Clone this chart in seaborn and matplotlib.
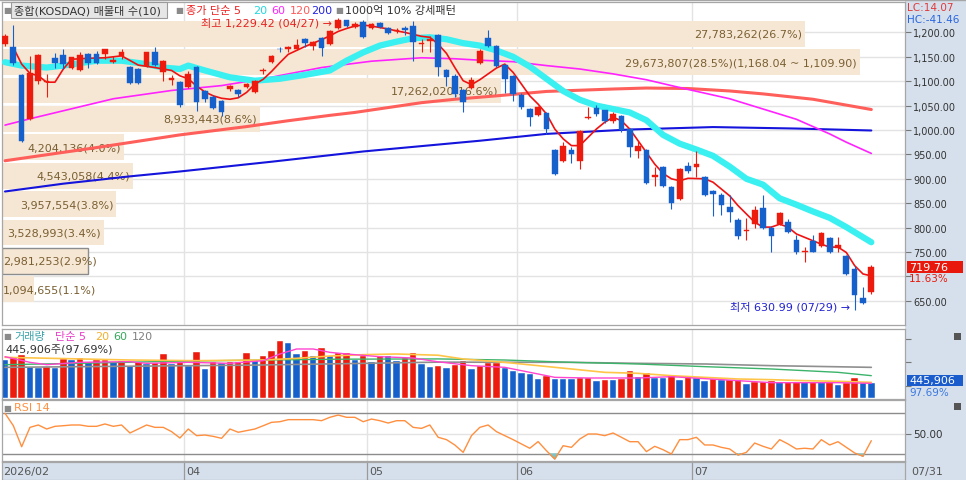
import numpy as np
import pandas as pd
import matplotlib
matplotlib.use("Agg")
import matplotlib.pyplot as plt
import seaborn as sns
from matplotlib.patches import Rectangle
from matplotlib.transforms import blended_transform_factory as blend
from matplotlib.ticker import FuncFormatter

# ---------------- data ----------------
opens = [1176,1171,1113,1022,1100,1098,1148,1154,1128,1122,
         1156,1156,1156,1139,1152,1130,1125,1132,1159,1118,
         1102,1098,1089,1130,1079,1067,1059,1084,1082,1089,
         1077,1121,1139,1167,1166,1166,1186,1173,1188,1176,
         1210,1225,1212,1222,1210,1219,1209,1203,1210,1214,
         1176,1183,1195,1122,1111,1081,1086,1137,1189,1173,
         1134,1111,1072,1044,1031,1034,959,937,959,937,
         1024,1046,1040,1018,1029,1002,956,959,904,924,
         884,859,926,925,903,876,866,842,816,793,
         807,840,800,807,812,775,750,773,762,778,
         759,741,715,655,667]
highs = [1196,1215,1115,1152,1156,1115,1157,1166,1150,1160,
         1158,1162,1166,1152,1167,1132,1128,1160,1170,1143,
         1113,1100,1120,1132,1082,1072,1062,1093,1084,1097,
         1103,1127,1154,1171,1172,1186,1188,1182,1190,1204,
         1229.42,1226,1222,1225,1220,1221,1212,1210,1213,1224,
         1186,1193,1197,1124,1115,1083,1109,1165,1205,1175,
         1136,1113,1075,1046,1050,1036,961,975,966,999,
         1048,1052,1042,1036,1031,1004,978,962,925,926,
         886,922,935,956,905,878,870,866,820,819,
         845,866,803,832,818,785,760,785,792,780,
         780,743,722,679,723]
lows = [1172,1134,975,1020,1095,1067,1128,1125,1126,1120,
        1128,1135,1145,1138,1145,1094,1094,1130,1132,1100,
        1093,1048,1087,1038,1058,1044,1029,1079,1068,1087,
        1075,1115,1137,1160,1160,1164,1171,1164,1152,1175,
        1206,1212,1208,1188,1206,1210,1196,1198,1195,1142,
        1159,1160,1111,1091,1068,1036,1084,1135,1170,1130,
        1075,1059,1044,1009,1029,992,908,935,932,920,
        1022,1028,1015,1015,996,944,943,889,886,883,
        838,857,911,903,864,823,826,811,777,775,
        800,797,750,805,788,746,730,749,760,747,
        749,703,630.99,643,663]
closes = [1193,1137,978,1116,1154,1101,1137,1135,1149,1154,
          1137,1138,1165,1143,1159,1096,1096,1159,1134,1141,
          1107,1052,1115,1057,1064,1046,1036,1091,1074,1094,
          1101,1123,1152,1165,1171,1175,1178,1180,1169,1202,
          1226.18,1214,1218,1190,1217,1212,1198,1205,1204,1180,
          1179,1186,1130,1108,1074,1057,1102,1161,1172,1132,
          1104,1074,1048,1026,1048,1002,910,968,951,997,
          1027,1033,1018,1033,999,966,968,891,908,886,
          850,920,915,931,866,868,846,831,783,795,
          837,799,783,829,792,749,752,751,789,749,
          764,705,662,644.78,719.76]
volumes = [1155000,1216000,1317000,932000,922000,932000,922000,1186000,1155000,1216000,
           1084000,1155000,1165000,1105000,1115000,963000,1105000,1034000,1054000,1338000,
           1034000,1084000,963000,1388000,892000,1084000,1054000,1084000,1094000,1368000,
           1165000,1287000,1419000,1723000,1662000,1338000,1439000,1287000,1520000,1287000,
           1358000,1368000,1155000,1287000,1084000,1287000,1277000,1115000,1216000,1358000,
           1034000,932000,983000,902000,1003000,1115000,871000,983000,1064000,1074000,
           902000,811000,770000,719000,588000,669000,588000,585000,580000,598000,
           608000,527000,557000,552000,567000,811000,628000,750000,618000,612000,
           699000,547000,638000,598000,527000,578000,537000,542000,548000,436000,
           476000,481000,507000,476000,479000,483000,474000,497000,476000,480000,
           405000,466000,608000,456450,445906]
rsi14 = [69.7,57.6,37.1,56.0,58.3,54.4,57.0,57.6,58.3,58.3,
         57.0,57.0,59.3,57.0,58.3,50.5,54.4,58.3,56.0,56.0,
         51.8,45.6,54.4,47.9,48.5,47.2,45.3,54.4,51.2,52.8,
         54.4,57.6,60.9,61.5,63.5,63.5,63.5,63.5,62.5,65.8,
         68.0,65.8,65.8,61.5,64.1,62.5,60.2,62.5,62.5,56.0,
         55.0,58.3,46.3,44.0,38.8,31.6,47.9,56.0,58.3,51.8,
         47.9,44.0,39.8,35.6,42.1,33.2,25.1,38.1,36.5,44.6,
         49.5,49.5,47.9,50.5,46.3,42.0,42.0,32.3,37.5,34.2,
         30.0,44.0,44.0,46.3,38.8,38.8,36.5,34.9,29.0,31.6,
         40.7,37.5,34.9,44.0,39.8,34.9,35.6,34.9,44.0,38.8,
         42.0,36.5,31.0,27.8,43.0]

# price moving averages, sampled (candle index -> value)
ma5_x = [1,2,3,4,5,6,7,8,10,12,14,16,18,20,21,22,23,24,25,26,27,28,29,30,31,32,33,34,35,36,
         37,38,39,40,41,42,43,44,45,46,47,48,49,50,51,52,53,54,55,56,57,58,59,60,61,62,63,64,65,66,
         67,68,69,70,71,72,73,74,75,76,77,78,79,80,81,82,84,85,86,87,88,89,90,91,92,93,94,95,96,97,
         98,99,100,101,102,103,104]
ma5_y = [1169,1135,1116,1111,1098,1098,1125,1145,1147,1148,1152,1133,1128,1122,1111,1105,1090,1078,1070,1065,
         1063,1066,1077,1094,1104,1120,1138,1155,1163,1171,1178,1185,1193,1202,1208,1213,1215,1213,1210,1207,
         1203,1200,1196,1192,1190,1176,1157,1128,1101,1093,1103,1115,1127,1135,1118,1094,1070,1053,1033,1002,
         982,968,968,985,1002,1016,1026,1019,1002,978,954,930,911,900,896,901,900,893,879,865,
         845,828,811,801,801,807,801,787,780,773,766,760,760,749,722,705,701]
ma20_x = [0,2,5,7,11,14,17,19,21,22,24,27,30,33,36,39,41,43,45,47,49,51,53,55,57,59,61,63,65,67,
          69,71,73,75,77,79,81,83,85,87,89,91,93,95,97,99,101,104]
ma20_y = [1139,1132,1128,1132,1142,1142,1135,1128,1125,1132,1122,1108,1101,1105,1113,1122,1142,1159,1173,1181,
          1188,1190,1186,1178,1173,1163,1150,1130,1105,1080,1062,1050,1043,1036,1020,990,972,960,947,925,
          900,888,860,847,833,820,801,770]
ma60_x = [0,3,13,20,26,31,38,44,50,54,57,61,65,69,73,77,81,87,91,95,99,101,104]
ma60_y = [1010,1023,1064,1081,1091,1105,1128,1141,1148,1146,1143,1140,1132,1125,1115,1103,1087,1064,1043,1022,992,975,952]
ma120_x = [0,11,21,29,34,39,42,50,54,59,65,73,77,82,87,91,97,101,104]
ma120_y = [937,964,990,1007,1019,1030,1036,1056,1063,1070,1079,1084,1086,1085,1080,1074,1063,1051,1042]
ma200_x = [0,7,15,21,32,43,50,57,65,75,85,95,104]
ma200_y = [874,890,905,915,935,956,967,978,992,1001,1006,1003,999]

# volume moving averages, sampled (thousands of shares)
vma5_x = [0,3,5,9,15,17,22,27,31,33,35,37,39,41,45,49,52,56,60,64,66,70,76,80,84,88,92,96,100,104]
vma5_y = [1256,1084,1013,1084,1105,1054,1084,1054,1135,1338,1490,1490,1388,1338,1256,1216,1100,983,932,730,
          628,608,608,648,588,527,466,466,466,446]
vma20_x = [0,15,23,31,35,39,43,47,52,55,60,64,68,72,76,80,84,88,92,96,100,104]
vma20_y = [1236,1155,1135,1155,1206,1276,1317,1338,1300,1186,1084,983,882,780,750,679,628,578,557,527,507,476]
vma60_x = [0,10,20,30,40,52,60,68,76,84,92,100,104]
vma60_y = [1013,1060,1115,1150,1180,1188,1155,1084,1034,953,882,780,679]
vma120_x = [0,30,52,68,76,84,92,104]
vma120_y = [932,1000,1090,1084,1054,1034,983,932]

# volume profile (매물대), bottom band first
prof_vol = [1094655,2981253,3528993,3957554,4543058,4204136,8933443,17262020,29673807,27783262]
prof_low, prof_high = 644.78, 1226.18

month_start = [22, 44, 62, 83]
month_labels = ["04", "05", "06", "07"]
first_label = "2026/02"
last_label = "07/31"
high_date, low_date = "04/27", "07/29"

# ---------------- style ----------------
sns.set_theme(style="white")
plt.rcParams['font.family'] = ['DejaVu Sans', 'Noto Sans CJK KR']
plt.rcParams['axes.unicode_minus'] = False

RED = '#ec1b0d'
BLUE = '#1660cc'
GRID = '#e3e3e3'
SPINE = '#a6a6a6'
PANEL = '#d6e0ec'

W, H = 966, 481
fig = plt.figure(figsize=(W / 100, H / 100), dpi=100)
fig.patch.set_facecolor('white')


def box(x0, y0, x1, y1):
    return [x0 / W, 1 - y1 / H, (x1 - x0) / W, (y1 - y0) / H]


PL, PR = 2, 905
ax_p = fig.add_axes(box(PL, 3, PR, 326))
ax_v = fig.add_axes(box(PL, 330, PR, 400))
ax_r = fig.add_axes(box(PL, 401, PR, 462))
ax_d = fig.add_axes(box(PL, 463, PR, 481))

fig.patches.append(Rectangle((PR / W, 0), 1 - PR / W, 1, transform=fig.transFigure,
                             facecolor=PANEL, edgecolor='none', zorder=-10))

STEP_PX = 8.33
X0_PX = 5
xlim = ((PL - X0_PX) / STEP_PX, (PR - X0_PX) / STEP_PX)

o = np.array(opens, float); h = np.array(highs, float)
l = np.array(lows, float); c = np.array(closes, float)
v = np.array(volumes, float); r = np.array(rsi14, float)
idx = np.arange(len(c))

for ax in (ax_p, ax_v, ax_r, ax_d):
    for s in ax.spines.values():
        s.set_color(SPINE)
        s.set_linewidth(0.9)
    ax.set_xlim(*xlim)
    ax.tick_params(axis='x', bottom=False, labelbottom=False)

bounds = [m - 0.5 for m in month_start]

# ---------------- price panel ----------------
ax_p.set_ylim(600.4, 1262.3)
ax_p.set_axisbelow(True)
ax_p.set_yticks(np.arange(650, 1201, 50))
last_close = c[-1]
ax_p.yaxis.set_major_formatter(
    FuncFormatter(lambda y, p: "" if abs(y - last_close) < 25 else f"{y:,.2f}"))
ax_p.yaxis.tick_right()
ax_p.tick_params(axis='y', right=True, left=False, direction='out', length=4, width=0.8,
                 color='#777777', labelsize=7, pad=2, labelcolor='#333333')
ax_p.grid(axis='y', color=GRID, lw=1)
for b in bounds:
    ax_p.axvline(b, color=GRID, lw=1, zorder=0.6)

# volume profile bands
edges = np.linspace(prof_low, prof_high, len(prof_vol) + 1)
pstep = edges[1] - edges[0]
centers = (edges[:-1] + edges[1:]) / 2
span = xlim[1] - xlim[0]
pv = np.array(prof_vol, float)
lengths = pv / pv.max() * 0.95 * span
cur_band = int(np.clip(np.searchsorted(edges, c[-1]) - 1, 0, len(pv) - 1))
for k in range(len(pv)):
    ax_p.add_patch(Rectangle((xlim[0], centers[k] - pstep * 0.455), lengths[k], pstep * 0.91,
                             facecolor='#f6e7d4', edgecolor=('#8c8c8c' if k == cur_band else 'none'),
                             lw=1.0, zorder=1))
    lab = f"{int(pv[k]):,}({pv[k] / pv.sum() * 100:.1f}%)"
    if k == int(np.argmax(pv)):
        lab += f"({edges[k + 1]:,.2f} ~ {edges[k]:,.2f})"
    band_px = lengths[k] / span * (PR - PL)
    if len(lab) * 6.2 + 4 < band_px:
        ax_p.text(xlim[0] + lengths[k] - 0.35, centers[k], lab, ha='right', va='center',
                  fontsize=8, color='#7a5f32', zorder=2)
    else:
        ax_p.text(xlim[0] + 0.15, centers[k], lab, ha='left', va='center',
                  fontsize=8, color='#7a5f32', zorder=2)

# moving averages
sns.lineplot(x=ma200_x, y=ma200_y, ax=ax_p, color='#1414dc', lw=1.5, zorder=3)
sns.lineplot(x=ma120_x, y=ma120_y, ax=ax_p, color='#ff5f5a', lw=2.2, zorder=3)
sns.lineplot(x=ma60_x, y=ma60_y, ax=ax_p, color='#ff22ff', lw=1.2, zorder=3)
sns.lineplot(x=ma20_x, y=ma20_y, ax=ax_p, color='#3af0f0', lw=4.5, zorder=3)
sns.lineplot(x=ma5_x, y=ma5_y, ax=ax_p, color='#f01212', lw=1.2, zorder=4)

# candles
up = c >= o
ccol = np.where(up, RED, BLUE)
ax_p.vlines(idx, l, h, colors=ccol, lw=0.8, zorder=5)
body_lo = np.minimum(o, c)
body_h = np.maximum(np.abs(c - o), 1.6)
ax_p.bar(idx, body_h, bottom=body_lo, width=0.68, color=ccol, edgecolor=ccol, lw=0.3, zorder=6)

# high / low annotations
imax = int(np.argmax(h)); imin = int(np.argmin(l))
ax_p.text(imax - 0.7, h[imax] - 8, f"최고 {h[imax]:,.2f} ({high_date}) →", ha='right', va='center',
          fontsize=8, color='#e52222', zorder=7)
ax_p.text(imin - 0.6, l[imin] + 7, f"최저 {l[imin]:,.2f} ({low_date}) →", ha='right', va='center',
          fontsize=8, color='#2222d2', zorder=7)
ax_p.set_xlim(*xlim)
ax_p.set_xlabel(''); ax_p.set_ylabel('')

# right column labels for price
trp = blend(fig.transFigure, ax_p.transData)
ax_p.add_patch(Rectangle((907 / W, c[-1] - 12), (963 - 907) / W, 24, transform=trp,
                         facecolor='#e8190c', edgecolor='none', clip_on=False, zorder=8))
ax_p.text(909 / W, c[-1], f"{c[-1]:,.2f}", transform=trp, color='white', fontsize=8,
          va='center', ha='left', zorder=9, clip_on=False)
ax_p.text(909 / W, c[-1] - 24, f"{(c[-1] / c[-2] - 1) * 100:.2f}%", transform=trp,
          color='#e8190c', fontsize=7.5, va='center', ha='left', zorder=9, clip_on=False)
LC = (c[-1] / l.min() - 1) * 100
HC = (c[-1] / h.max() - 1) * 100
fig.text(907 / W, 1 - 8 / H, f"LC:{LC:.2f}", color='#e03a3a', fontsize=7.5, va='center')
fig.text(907 / W, 1 - 20 / H, f"HC:{HC:.2f}", color='#2a66e0', fontsize=7.5, va='center')

# ---------------- volume panel ----------------
PXV = 30400
ax_v.set_ylim(-PXV, 69 * PXV)
vcol = np.where(np.r_[False, v[1:] > v[:-1]], RED, BLUE)
ax_v.bar(idx, v, width=0.78, color=vcol, edgecolor='white', lw=0.3, zorder=2)
for b in bounds:
    ax_v.axvline(b, color=GRID, lw=1, zorder=0.5)
sns.lineplot(x=vma120_x, y=np.array(vma120_y) * 1000, ax=ax_v, color='#8f8f8f', lw=1.2, zorder=3)
sns.lineplot(x=vma60_x, y=np.array(vma60_y) * 1000, ax=ax_v, color='#3cb36a', lw=1.0, zorder=3)
sns.lineplot(x=vma20_x, y=np.array(vma20_y) * 1000, ax=ax_v, color='#ffc548', lw=1.2, zorder=3)
sns.lineplot(x=vma5_x, y=np.array(vma5_y) * 1000, ax=ax_v, color='#ff45cf', lw=1.0, zorder=3)
ax_v.set_xlim(*xlim)
ax_v.set_xlabel(''); ax_v.set_ylabel('')
ax_v.yaxis.tick_right()
ax_v.set_yticks([375000, 1085000, 1795000])
ax_v.set_yticklabels([])
ax_v.tick_params(axis='y', right=True, left=False, direction='out', length=4, width=0.8, color='#777777')
trv = blend(fig.transFigure, ax_v.transData)
ax_v.add_patch(Rectangle((907 / W, v[-1] + 90000 - 5.5 * PXV), (963 - 907) / W, 11 * PXV, transform=trv,
                         facecolor='#1a5ccc', edgecolor='none', clip_on=False, zorder=8))
ax_v.text(909 / W, v[-1] + 90000, f"{int(v[-1]):,}", transform=trv, color='white', fontsize=8,
          va='center', ha='left', clip_on=False, zorder=9)
ax_v.text(909 / W, v[-1] + 90000 - 12 * PXV, f"{v[-1] / v[-2] * 100:.2f}%", transform=trv,
          color='#3a78e0', fontsize=7.5, va='center', ha='left', clip_on=False, zorder=9)

# ---------------- RSI panel ----------------
ax_r.set_ylim(70 - 48 / 1.025, 70 + 13 / 1.025)
for b in bounds:
    ax_r.axvline(b, color=GRID, lw=1, zorder=0.5)
ax_r.axhline(50, color=GRID, lw=1, zorder=0.5)
ax_r.axhline(70, color='#8c8c8c', lw=1, zorder=1)
ax_r.axhline(30, color='#8c8c8c', lw=1, zorder=1)
ax_r.fill_between(idx, r, 30, where=r < 30, interpolate=True, color='#7cc4c8', zorder=2)
ax_r.fill_between(idx, r, 70, where=r > 70, interpolate=True, color='#f4a0a0', zorder=2)
sns.lineplot(x=idx, y=r, ax=ax_r, color='#ff8f3f', lw=1.0, zorder=3)
ax_r.set_xlim(*xlim)
ax_r.set_xlabel(''); ax_r.set_ylabel('')
ax_r.yaxis.tick_right()
ax_r.set_yticks([50])
ax_r.set_yticklabels(["50.00"])
ax_r.tick_params(axis='y', right=True, left=False, direction='out', length=4, width=0.8,
                 color='#777777', labelsize=7.5, pad=2, labelcolor='#333333')

# ---------------- date band ----------------
ax_d.set_facecolor(PANEL)
ax_d.set_ylim(0, 1)
ax_d.set_yticks([])
ax_d.text(xlim[0] + 0.1, 0.5, first_label, ha='left', va='center', fontsize=8, color='#555555')
for b, lab in zip(bounds, month_labels):
    ax_d.axvline(b, color='#9a9a9a', lw=0.9)
    ax_d.text(b + 0.2, 0.5, lab, ha='left', va='center', fontsize=8, color='#555555')
fig.text(911 / W, 1 - 472 / H, last_label, fontsize=8, color='#555555', va='center')

# ---------------- headers ----------------
def T(x, y, s, color='#333333', size=8):
    fig.text(x / W, 1 - y / H, s, color=color, fontsize=size, va='center', ha='left', zorder=20)


fig.patches.append(Rectangle((11 / W, 1 - 19 / H), 156 / W, 16 / H, transform=fig.transFigure,
                             facecolor='#e6e6e6', edgecolor='#9a9a9a', lw=0.8, zorder=15))
T(3, 10.5, "■", '#8a8a8a', 6)
T(14, 11, "종합(KOSDAQ) 매물대 수(10)", '#333333', 8)
T(175, 10.5, "■", '#8a8a8a', 6)
T(186, 11, "종가 단순 5", '#ee2222', 8)
T(253, 11, "20", '#22d8e0', 8)
T(271, 11, "60", '#ff22ff', 8)
T(290, 11, "120", '#ff5a5a', 8)
T(311, 11, "200", '#2222e0', 8)
T(335, 10.5, "■", '#8a8a8a', 6)
T(345, 11, "1000억 10% 강세패턴", '#333333', 8)

T(3, 337, "■", '#8a8a8a', 6)
T(14, 337.5, "거래량", '#3aa3aa', 8)
T(55, 337.5, "단순 5", '#e83cc8', 8)
T(95, 337.5, "20", '#f2b030', 8)
T(113, 337.5, "60", '#35a85a', 8)
T(132, 337.5, "120", '#808080', 8)
T(5, 350, f"{int(v[-1]):,}주({v[-1] / v[-2] * 100:.2f}%)", '#333333', 8)

T(3, 408, "■", '#8a8a8a', 6)
T(14, 408.5, "RSI 14", '#ff8f3f', 8)

for yy in (337, 407):
    fig.patches.append(Rectangle((954 / W, 1 - (yy + 3.5) / H), 7 / W, 7 / H, transform=fig.transFigure,
                                 facecolor='#555555', edgecolor='none', zorder=15))

fig.add_artist(plt.Line2D([0, 1], [1 - 1 / H, 1 - 1 / H], transform=fig.transFigure, color=SPINE, lw=1))

fig.savefig("out.png", dpi=100, facecolor='white')
